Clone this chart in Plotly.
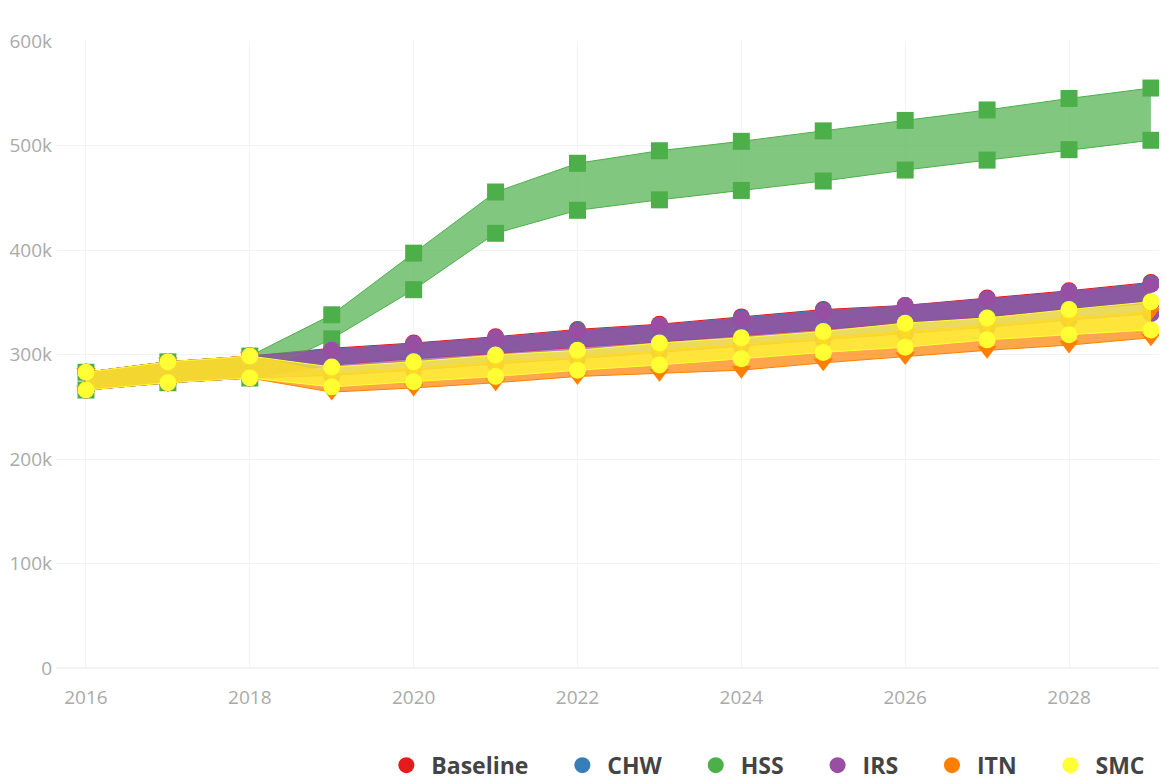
import plotly.graph_objects as go

years = list(range(2016, 2030))

# shared history 2016-2018 (thousands)
hist_hi = [283, 293, 298.5]
hist_lo = [266, 273, 277.5]

# projections 2019-2029 (thousands)
baseline_hi = [306, 311, 317, 324, 329, 336, 343, 347, 354, 361, 369]
baseline_lo = [290, 296, 301, 307, 312, 318, 324, 330, 336, 343, 349]
chw_hi = [305, 310, 316, 323, 328, 335, 342, 346, 353, 360, 368]
chw_lo = [291, 297, 302, 308, 313, 319, 325, 331, 337, 344, 350]
hss_hi = [338, 397, 455.5, 483, 495, 504, 514, 524, 534, 545, 555]
hss_lo = [315, 362, 416, 438, 448, 457, 466, 476.5, 486, 496, 505]
irs_hi = [304, 310, 316, 322, 328, 334, 341, 347, 353, 360, 367]
irs_lo = [280, 285, 291, 296, 302, 308, 314, 320, 326, 333, 339]
itn_hi = [282, 287, 293, 298, 304, 310, 316, 322, 328, 335, 341]
itn_lo = [264, 268, 273, 279, 282, 285, 292, 298, 304, 309, 316]
smc_hi = [288, 293, 299.5, 304, 311, 316, 322, 330, 335, 343, 350.5]
smc_lo = [269, 274, 279, 285, 290, 296, 302, 307, 314, 319, 323.5]

series = [
    ("Baseline", "#e41a1c", "circle", baseline_hi, baseline_lo),
    ("CHW", "#377eb8", "circle", chw_hi, chw_lo),
    ("HSS", "#4daf4a", "square", hss_hi, hss_lo),
    ("IRS", "#984ea3", "circle", irs_hi, irs_lo),
    ("ITN", "#ff7f00", "triangle-down", itn_hi, itn_lo),
    ("SMC", "#ffff33", "circle", smc_hi, smc_lo),
]


def rgba(hexcol, a):
    h = hexcol.lstrip("#")
    return f"rgba({int(h[0:2], 16)},{int(h[2:4], 16)},{int(h[4:6], 16)},{a})"


fig = go.Figure()

for name, col, sym, hi, lo in series:
    up = [v * 1000 for v in hist_hi + hi]
    dn = [v * 1000 for v in hist_lo + lo]
    fig.add_trace(go.Scatter(
        x=years, y=up, mode="lines+markers", name=name, legendgroup=name,
        showlegend=False, line=dict(color=col, width=1),
        marker=dict(symbol=sym, size=17, color=col)))
    fig.add_trace(go.Scatter(
        x=years, y=dn, mode="lines+markers", name=name, legendgroup=name,
        showlegend=False, fill="tonexty", fillcolor=rgba(col, 0.7),
        line=dict(color=col, width=1),
        marker=dict(symbol=sym, size=17, color=col)))

# legend entries (plain circles); trailing nbsp widens the gap between items
for i, (name, col, sym, hi, lo) in enumerate(series):
    label = name if i == len(series) - 1 else name + "\u00a0" * 4
    fig.add_trace(go.Scatter(
        x=[None], y=[None], mode="markers", name=label, legendgroup=name,
        marker=dict(symbol="circle", size=22, color=col)))

fig.update_layout(
    width=1159, height=775,
    margin=dict(l=48, r=0, t=33, b=115),
    paper_bgcolor="white", plot_bgcolor="white",
    font=dict(family="Open Sans", size=19, color="#aaa"),
    showlegend=True,
    legend=dict(orientation="h", x=0.985, xanchor="right",
                y=0.023, yanchor="middle", yref="container",
                font=dict(size=23, color="#444", weight="bold"),
                itemsizing="trace", itemwidth=40),
)
fig.update_xaxes(range=[2015.634, 2029.196], tick0=2016, dtick=2,
                 showgrid=True, gridcolor="#f3f3f3", zeroline=False,
                 showline=False, ticks="", automargin=False,
                 ticklabelstandoff=16)
fig.update_yaxes(range=[0, 600000], dtick=100000, tickformat="~s",
                 showgrid=True, gridcolor="#f3f3f3", zeroline=True,
                 zerolinecolor="#f3f3f3", showline=False, ticks="",
                 automargin=False, ticklabelstandoff=3)

fig.write_html("out.html")
